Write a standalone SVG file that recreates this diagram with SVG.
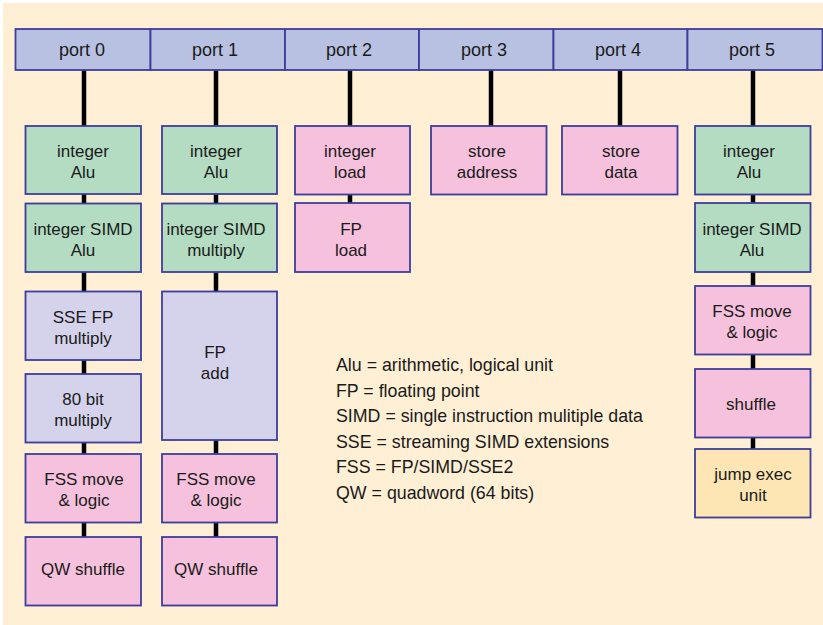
<svg xmlns="http://www.w3.org/2000/svg" width="823" height="625" viewBox="0 0 823 625">
<style>
.port{fill:#b8c1e1;stroke:#3d3d9c;stroke-width:1.8}
.box{stroke:#3d3d9c;stroke-width:1.8}
.g{fill:#b3dcc2}
.l{fill:#d4d3eb}
.p{fill:#f6c1dc}
.y{fill:#fde6b4}
text{font-family:"Liberation Sans",Arial,sans-serif;fill:#1a1a1a;text-anchor:middle}
.pt{font-size:18px}
.bt{font-size:17px}
.lg{font-size:17.8px;text-anchor:start}
.conn{stroke:#000;stroke-width:4.5;fill:none}
</style>
<rect x="0" y="0" width="823" height="625" fill="#fff"/>
<rect x="3" y="3" width="820" height="622" fill="#feefd5"/>
<g id="connectors">
<line class="conn" x1="84" y1="70" x2="84" y2="537"/>
<line class="conn" x1="216" y1="70" x2="216" y2="537"/>
<line class="conn" x1="350" y1="70" x2="350" y2="203"/>
<line class="conn" x1="491" y1="70" x2="491" y2="126"/>
<line class="conn" x1="620" y1="70" x2="620" y2="126"/>
<line class="conn" x1="753" y1="70" x2="753" y2="449"/>
</g>
<g id="port0"><rect class="port" x="15.5" y="29" width="135" height="41"/><text class="pt" x="82" y="56">port 0</text></g>
<g id="port1"><rect class="port" x="150.5" y="29" width="134.5" height="41"/><text class="pt" x="215" y="56">port 1</text></g>
<g id="port2"><rect class="port" x="285" y="29" width="134" height="41"/><text class="pt" x="349" y="56">port 2</text></g>
<g id="port3"><rect class="port" x="419" y="29" width="134.5" height="41"/><text class="pt" x="484" y="56">port 3</text></g>
<g id="port4"><rect class="port" x="553.5" y="29" width="134" height="41"/><text class="pt" x="618" y="56">port 4</text></g>
<g id="port5"><rect class="port" x="687.5" y="29" width="135" height="41"/><text class="pt" x="752" y="56">port 5</text></g>

<g id="p0-int-alu"><rect class="box g" x="25.5" y="126" width="115.5" height="68"/><text class="bt" x="83" y="157">integer</text><text class="bt" x="83" y="178">Alu</text></g>
<g id="p0-simd-alu"><rect class="box g" x="25.5" y="203.5" width="115.5" height="68.5"/><text class="bt" x="83" y="234.5">integer SIMD</text><text class="bt" x="83" y="255.5">Alu</text></g>
<g id="p0-sse-mul"><rect class="box l" x="25.5" y="291.5" width="115.5" height="68.5"/><text class="bt" x="83" y="322.5">SSE FP</text><text class="bt" x="83" y="343.5">multiply</text></g>
<g id="p0-80bit"><rect class="box l" x="25.5" y="374" width="115.5" height="68.5"/><text class="bt" x="83" y="405">80 bit</text><text class="bt" x="83" y="426">multiply</text></g>
<g id="p0-fss"><rect class="box p" x="25.5" y="454" width="115.5" height="68.5"/><text class="bt" x="84" y="485">FSS move</text><text class="bt" x="84" y="506">&amp; logic</text></g>
<g id="p0-qw"><rect class="box p" x="25.5" y="537" width="115.5" height="68.5"/><text class="bt" x="83" y="575">QW shuffle</text></g>

<g id="p1-int-alu"><rect class="box g" x="162" y="126" width="115" height="68"/><text class="bt" x="216" y="157">integer</text><text class="bt" x="216" y="178">Alu</text></g>
<g id="p1-simd-mul"><rect class="box g" x="162" y="203.5" width="115" height="68.5"/><text class="bt" x="216" y="234.5">integer SIMD</text><text class="bt" x="216" y="255.5">multiply</text></g>
<g id="p1-fp-add"><rect class="box l" x="162" y="291.5" width="115" height="148.5"/><text class="bt" x="215" y="358">FP</text><text class="bt" x="215" y="379">add</text></g>
<g id="p1-fss"><rect class="box p" x="162" y="454" width="115" height="68.5"/><text class="bt" x="216" y="485">FSS move</text><text class="bt" x="216" y="506">&amp; logic</text></g>
<g id="p1-qw"><rect class="box p" x="162" y="537" width="115" height="68.5"/><text class="bt" x="216" y="575">QW shuffle</text></g>

<g id="p2-int-load"><rect class="box p" x="295" y="126" width="115" height="68.5"/><text class="bt" x="350" y="157">integer</text><text class="bt" x="350" y="178">load</text></g>
<g id="p2-fp-load"><rect class="box p" x="295" y="203" width="115" height="69"/><text class="bt" x="351" y="234.5">FP</text><text class="bt" x="351" y="255.5">load</text></g>

<g id="p3-store-addr"><rect class="box p" x="431" y="126" width="115.5" height="68.5"/><text class="bt" x="487" y="157">store</text><text class="bt" x="487" y="178">address</text></g>
<g id="p4-store-data"><rect class="box p" x="562" y="126" width="115.5" height="68.5"/><text class="bt" x="621" y="157">store</text><text class="bt" x="621" y="178">data</text></g>

<g id="p5-int-alu"><rect class="box g" x="695" y="126" width="115.5" height="68.5"/><text class="bt" x="749" y="157">integer</text><text class="bt" x="749" y="178">Alu</text></g>
<g id="p5-simd-alu"><rect class="box g" x="695" y="203" width="115.5" height="69"/><text class="bt" x="752" y="234.5">integer SIMD</text><text class="bt" x="752" y="255.5">Alu</text></g>
<g id="p5-fss"><rect class="box p" x="695" y="286" width="115.5" height="68.5"/><text class="bt" x="752" y="317">FSS move</text><text class="bt" x="752" y="338">&amp; logic</text></g>
<g id="p5-shuffle"><rect class="box p" x="695" y="369" width="115.5" height="68.5"/><text class="bt" x="751" y="410">shuffle</text></g>
<g id="p5-jump"><rect class="box y" x="695" y="449" width="115.5" height="68.5"/><text class="bt" x="753" y="480">jump exec</text><text class="bt" x="753" y="501">unit</text></g>

<g id="legend">
<text class="lg" x="336" y="371">Alu = arithmetic, logical unit</text>
<text class="lg" x="336" y="397">FP = floating point</text>
<text class="lg" x="336" y="422">SIMD = single instruction mulitiple data</text>
<text class="lg" x="336" y="448">SSE = streaming SIMD extensions</text>
<text class="lg" x="336" y="473">FSS = FP/SIMD/SSE2</text>
<text class="lg" x="336" y="499">QW = quadword (64 bits)</text>
</g>
</svg>
